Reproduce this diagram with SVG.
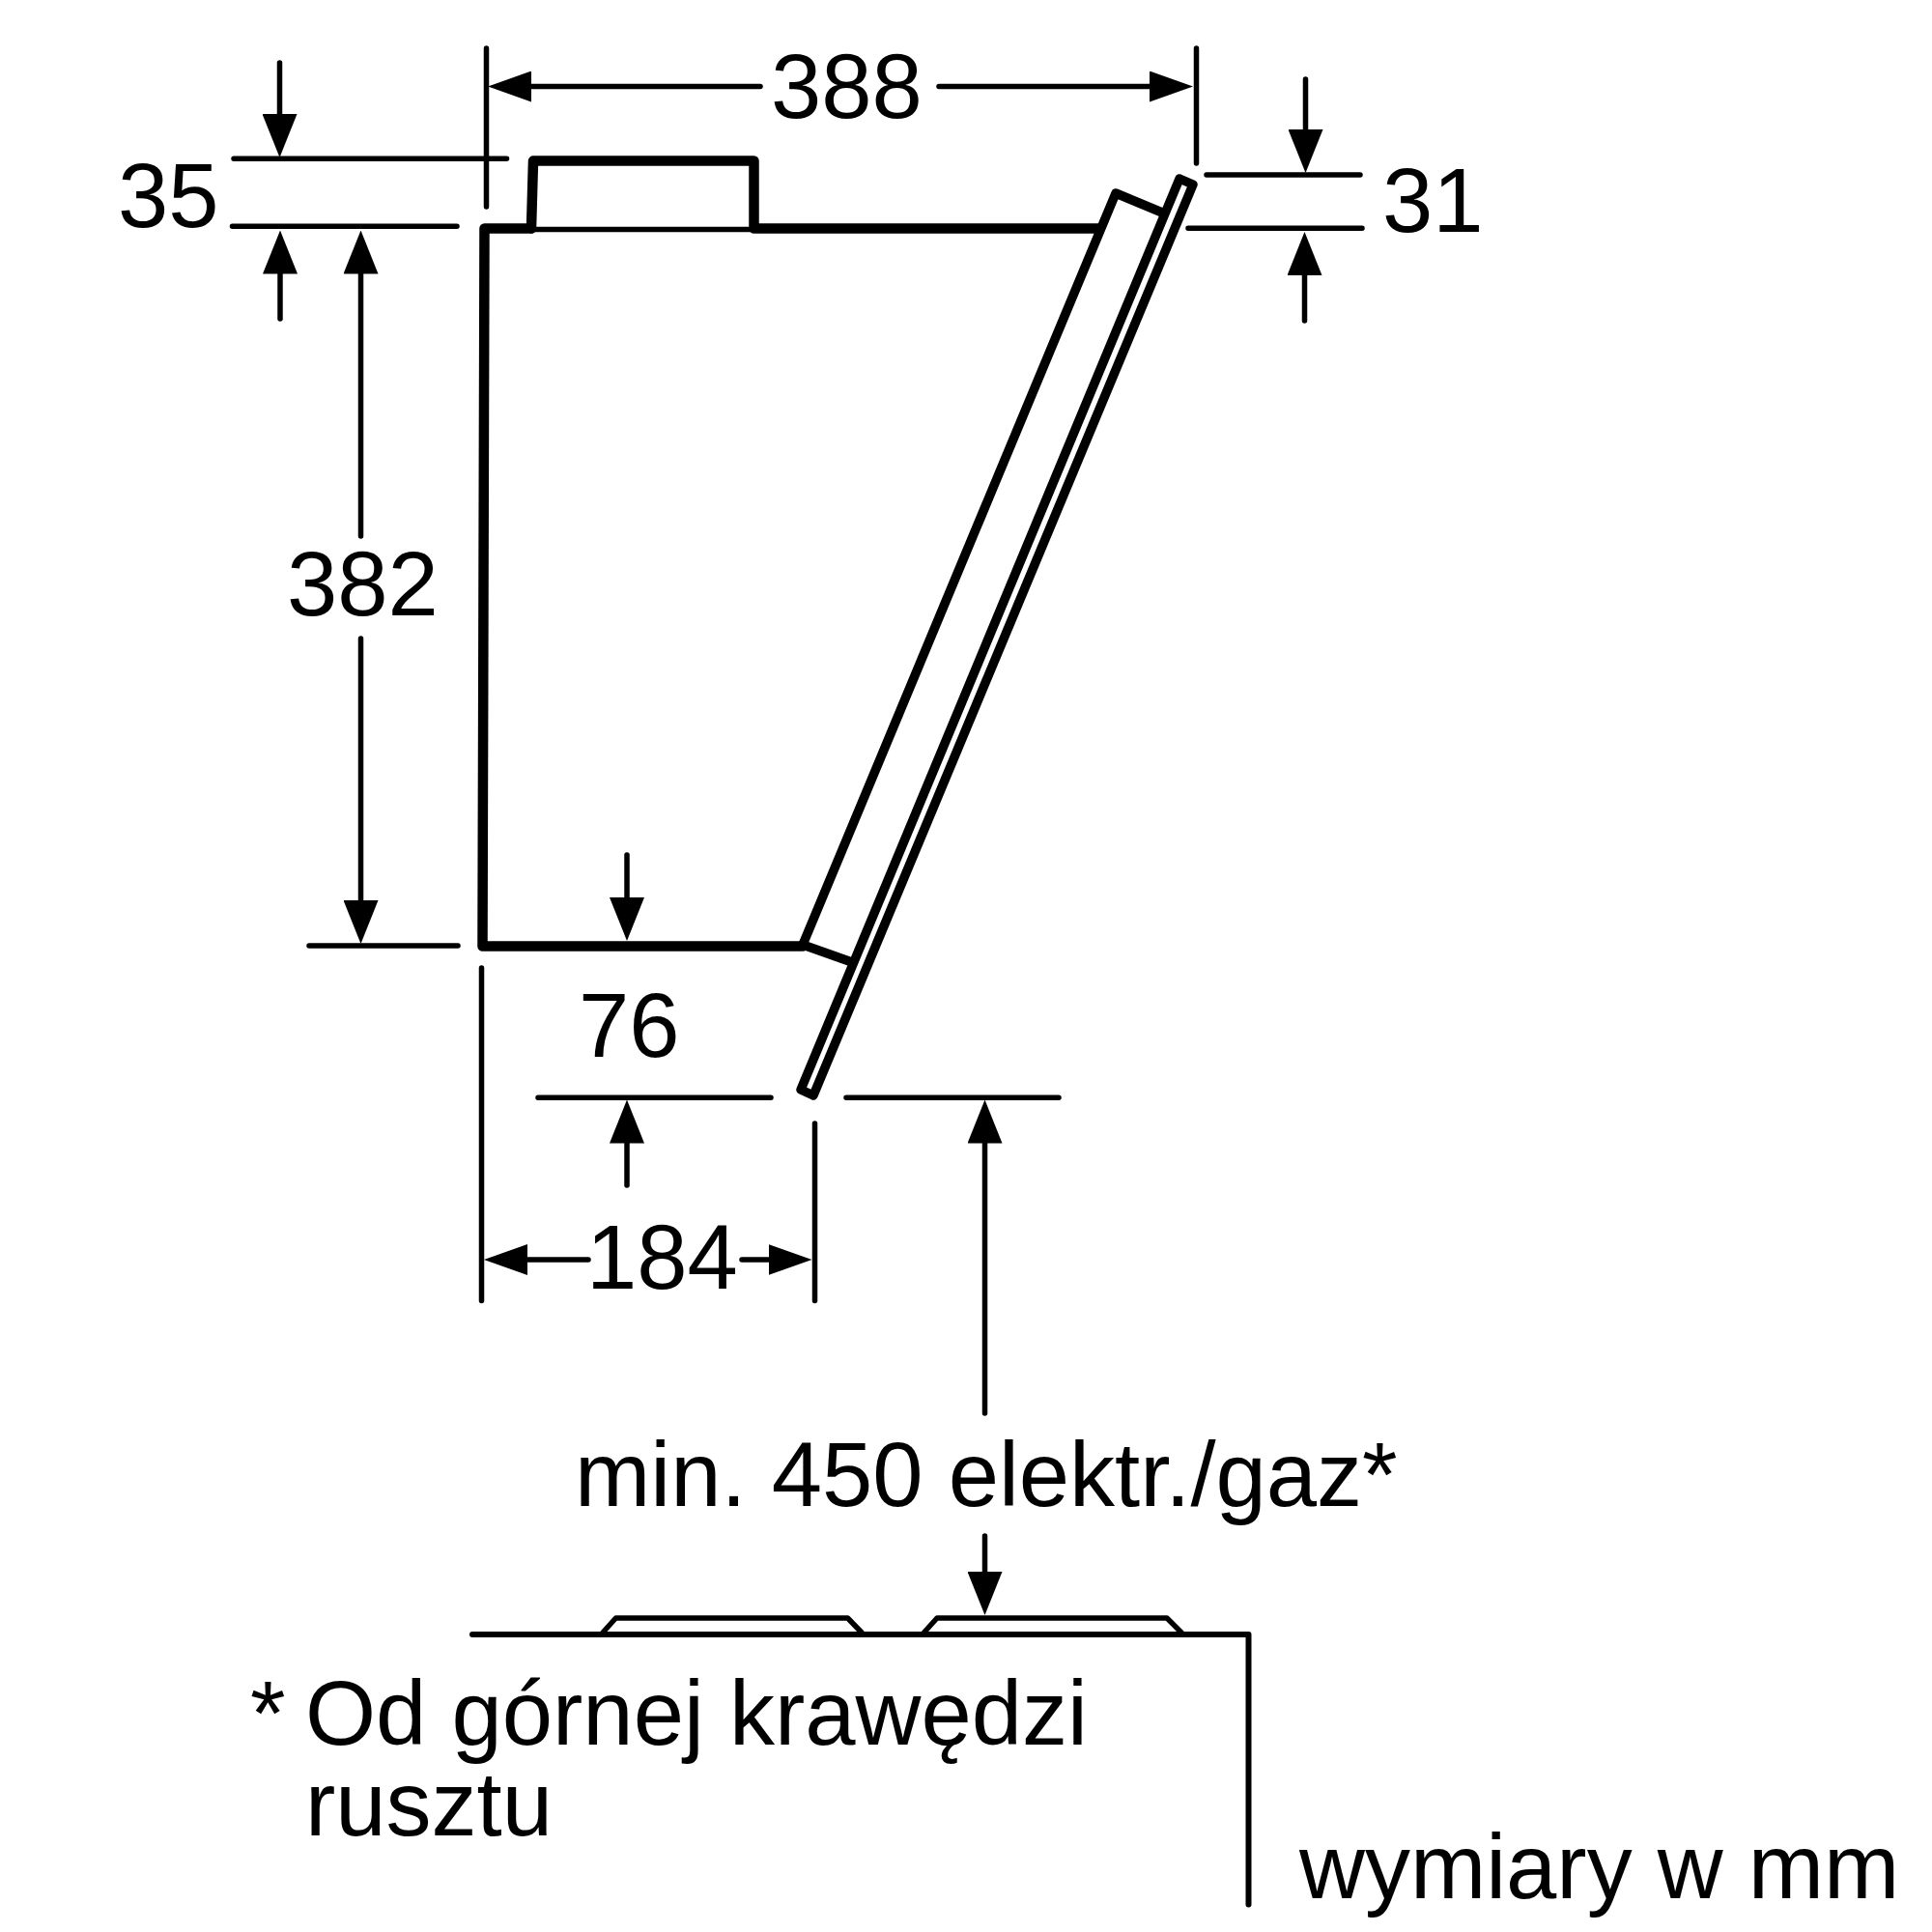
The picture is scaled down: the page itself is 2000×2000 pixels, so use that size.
<svg xmlns="http://www.w3.org/2000/svg" width="2000" height="2000" viewBox="0 0 2000 2000">
<style>
.d{stroke:#000;stroke-width:5.5;fill:none;stroke-linecap:round;stroke-linejoin:round}
.o{stroke:#000;stroke-width:10.5;fill:none;stroke-linecap:round;stroke-linejoin:round}
.p{stroke:#000;stroke-width:9.5;fill:none;stroke-linecap:round;stroke-linejoin:round}
.t{font-family:"Liberation Sans",Arial,sans-serif;font-size:94px;fill:#000}
</style>
<defs>
<marker id="av" markerUnits="userSpaceOnUse" orient="auto" refX="20" refY="18" markerWidth="45" markerHeight="36"><path d="M0,0L45,18L0,36Z" fill="#000"/></marker>
<marker id="ah" markerUnits="userSpaceOnUse" orient="auto" refX="20" refY="16" markerWidth="45" markerHeight="32"><path d="M0,0L45,16L0,32Z" fill="#000"/></marker>
</defs>
<rect width="2000" height="2000" fill="#fff"/>
<g id="hood">
<path class="o" d="M550,236.5H501.5L499.5,979.5H831"/>
<path class="o" d="M550,236.5L552,166.5H780.5V236.5H1137"/>
<path class="d" d="M552,237.5H780"/>
<path class="p" d="M831,978L1155,200L1203,220"/>
<path class="p" d="M831,978L879,995"/>
<path class="p" d="M1221,185L1235,191L842,1134L829,1128Z"/>
</g>
<g id="cooktop">
<path class="d" d="M489,1692H1292.5V1971.5" style="stroke-width:6"/>
<path class="d" d="M624,1690L637.5,1675H877.5L892,1690"/>
<path class="d" d="M956.5,1690L970,1675H1208L1223,1690"/>
</g>
<g id="connectors">
<path class="d" d="M503.5,50V214M1238.5,50V169M242,164.3H524.5M240.5,234.3H473M1249,181H1408M1230,236.3H1410M320,979H474M498.5,1002V1346.5M843.5,1163V1346.5M557,1136.3H798M876,1136.3H1096"/>
<line class="d" x1="787" y1="89.5" x2="530" y2="89.5" marker-end="url(#ah)"/>
<line class="d" x1="972" y1="89.5" x2="1210" y2="89.5" marker-end="url(#ah)"/>
<line class="d" x1="289.5" y1="65" x2="289.5" y2="138" marker-end="url(#av)"/>
<line class="d" x1="290" y1="330" x2="290" y2="263.5" marker-end="url(#av)"/>
<line class="d" x1="373.5" y1="555" x2="373.5" y2="263.5" marker-end="url(#av)"/>
<line class="d" x1="373.5" y1="661" x2="373.5" y2="952" marker-end="url(#av)"/>
<line class="d" x1="1351.5" y1="82" x2="1351.5" y2="154" marker-end="url(#av)"/>
<line class="d" x1="1350.5" y1="332" x2="1350.5" y2="265" marker-end="url(#av)"/>
<line class="d" x1="649" y1="885" x2="649" y2="949" marker-end="url(#av)"/>
<line class="d" x1="649" y1="1227" x2="649" y2="1163.5" marker-end="url(#av)"/>
<line class="d" x1="1019.5" y1="1463" x2="1019.5" y2="1163.5" marker-end="url(#av)"/>
<line class="d" x1="1019.5" y1="1590" x2="1019.5" y2="1647" marker-end="url(#av)"/>
<line class="d" x1="609" y1="1304" x2="526" y2="1304" marker-end="url(#ah)"/>
<line class="d" x1="768" y1="1304" x2="815.5" y2="1304" marker-end="url(#ah)"/>
</g>
<g id="labels">
<text class="t" x="122" y="235">35</text>
<text class="t" x="1431" y="240">31</text>
<text class="t" x="798" y="122">388</text>
<text class="t" x="297" y="637">382</text>
<text class="t" x="599" y="1094">76</text>
<text class="t" x="607" y="1334">184</text>
<text class="t" x="595" y="1559">min. 450 elektr./gaz*</text>
<text class="t" x="259" y="1806">*</text>
<text class="t" x="316" y="1806">Od górnej krawędzi</text>
<text class="t" x="316" y="1900">rusztu</text>
<text class="t" x="1345" y="1965">wymiary w mm</text>
</g>
</svg>
